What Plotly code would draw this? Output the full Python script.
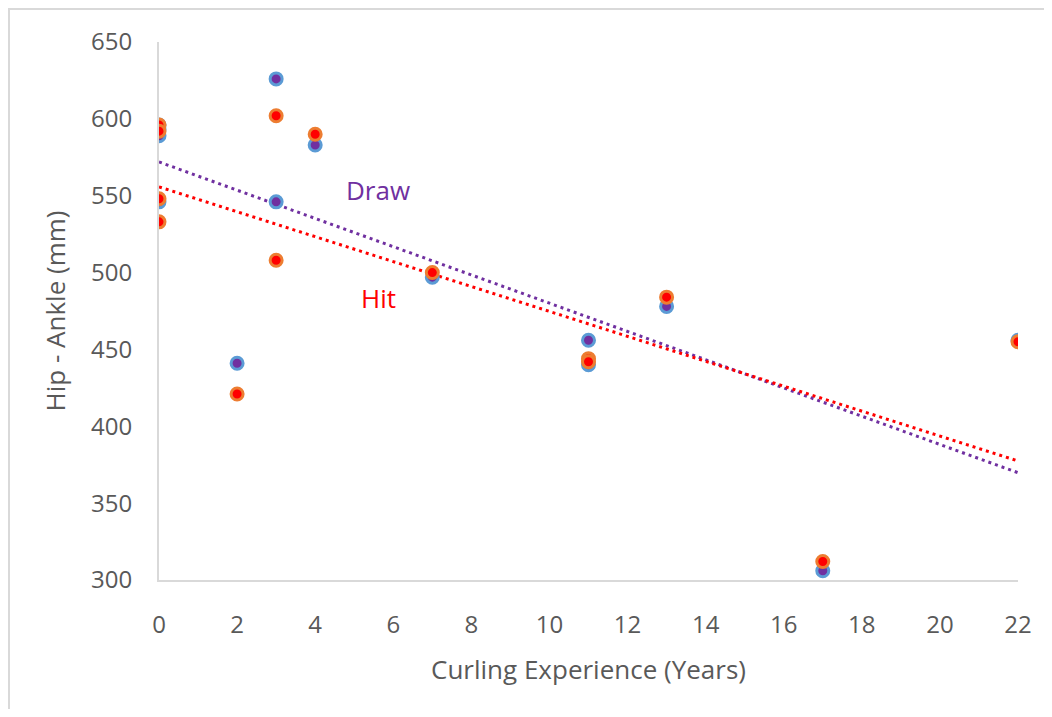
import numpy as np
import plotly.graph_objects as go

# Data
experience = [0, 0, 0, 0, 2, 3, 3, 4, 7, 11, 11, 13, 17, 22]
draw_hip_ankle = [596, 593, 589, 546, 441, 626, 546, 583, 497, 456, 440, 478, 306, 456]
hit_hip_ankle = [596, 592, 548, 533, 421, 602, 508, 590, 500, 444, 442, 484, 312, 455]
x_ticks = [0, 2, 4, 6, 8, 10, 12, 14, 16, 18, 20, 22]
y_ticks = [300, 350, 400, 450, 500, 550, 600, 650]

fig = go.Figure()

def trend(xs, ys):
    m, b = np.polyfit(xs, ys, 1)
    xx = np.array([0, 22])
    return xx, m * xx + b

tx, ty = trend(experience, draw_hip_ankle)
fig.add_trace(go.Scatter(x=tx, y=ty, mode="lines",
                         line=dict(color="#7030A0", width=3, dash="3px,4px"),
                         showlegend=False, hoverinfo="skip"))
tx, ty = trend(experience, hit_hip_ankle)
fig.add_trace(go.Scatter(x=tx, y=ty, mode="lines",
                         line=dict(color="#FF0000", width=3, dash="3px,4px"),
                         showlegend=False, hoverinfo="skip"))

fig.add_trace(go.Scatter(x=experience, y=draw_hip_ankle, mode="markers", name="Draw",
                         marker=dict(size=12, color="#7030A0",
                                     line=dict(color="#5B9BD5", width=3)),
                         showlegend=False))
fig.add_trace(go.Scatter(x=experience, y=hit_hip_ankle, mode="markers", name="Hit",
                         marker=dict(size=12, color="#FF0000",
                                     line=dict(color="#ED7D31", width=3)),
                         showlegend=False))

fig.add_annotation(x=5.61, y=553.5, text="Draw", showarrow=False,
                   font=dict(family="Open Sans", size=26, color="#7030A0"))
fig.add_annotation(x=5.63, y=483.5, text="Hit", showarrow=False,
                   font=dict(family="Open Sans", size=26, color="#FF0000"))

# chart border (top and left edges visible)
fig.add_shape(type="rect", xref="paper", yref="paper",
              x0=-0.1746, x1=1.2, y0=-0.4, y1=1.0613,
              line=dict(color="#D9D9D9", width=2), layer="below")

fig.update_layout(
    width=1036, height=701,
    margin=dict(l=151, r=26, t=34, b=129),
    paper_bgcolor="white", plot_bgcolor="white",
    font=dict(family="Open Sans", size=24, color="#595959"),
)
fig.update_xaxes(range=[0, 22], tickvals=x_ticks, showgrid=False, zeroline=False,
                 showline=True, linecolor="#D9D9D9", linewidth=2,
                 ticks="", ticklabelstandoff=22,
                 title=dict(text="Curling Experience (Years)", standoff=22,
                            font=dict(size=26, color="#595959")))
fig.update_yaxes(range=[300, 650], tickvals=y_ticks, showgrid=False, zeroline=False,
                 showline=True, linecolor="#D9D9D9", linewidth=2,
                 ticks="", ticklabelstandoff=20,
                 title=dict(text="Hip - Ankle (mm)", standoff=18,
                            font=dict(size=26, color="#595959")))

fig.write_html("out.html")
